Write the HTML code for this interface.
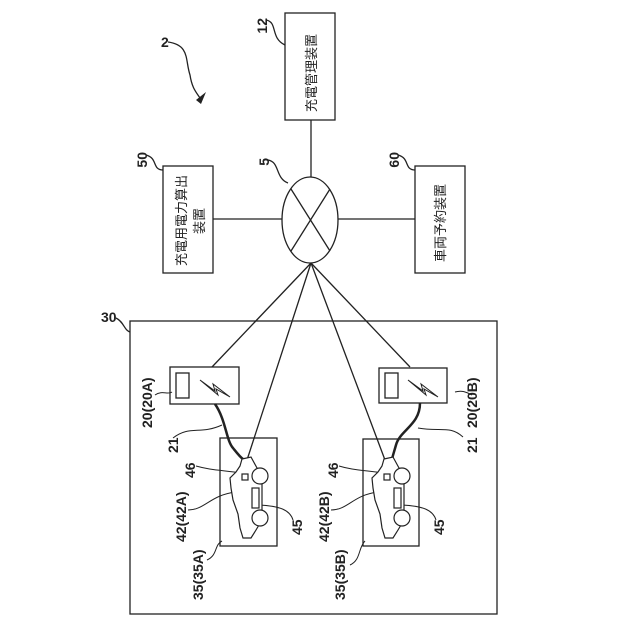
<!DOCTYPE html>
<html><head><meta charset="utf-8"><style>
html,body{margin:0;padding:0;background:#fff;}
svg{display:block;}
text{font-family:"Liberation Sans","Noto Sans CJK JP",sans-serif;fill:#222;}
</style></head><body>
<svg width="640" height="640" viewBox="0 0 640 640" xmlns="http://www.w3.org/2000/svg">
<defs><g id="car">
<path d="M242,459 L251,457 L257,468 L262,476 L262,520 L256,530 L251,538 L243,538 L240,528 L238,514 L233,500 L231,488 L230,478 L236,472 L240,466 Z" fill="#fff" stroke="#222" stroke-width="1.2"/>
<circle cx="260" cy="476" r="8" fill="#fff" stroke="#222" stroke-width="1.2"/>
<circle cx="260" cy="518" r="8" fill="#fff" stroke="#222" stroke-width="1.2"/>
<rect x="252" y="488" width="7" height="20" fill="#fff" stroke="#222" stroke-width="1.2"/>
<rect x="242" y="474" width="6" height="6" fill="#fff" stroke="#222" stroke-width="1.2"/>
</g></defs>
<g stroke="#222" stroke-width="1.3" fill="none">
<rect x="285" y="13" width="50" height="107" fill="#fff"/>
<rect x="163" y="166" width="50" height="107" fill="#fff"/>
<rect x="415" y="166" width="50" height="107" fill="#fff"/>
<line x1="311" y1="120" x2="311" y2="177"/>
<line x1="213" y1="219" x2="282" y2="219"/>
<line x1="338" y1="219" x2="415" y2="219"/>
<ellipse cx="310" cy="220" rx="28" ry="43" fill="#fff"/>
<line x1="291" y1="189" x2="330" y2="251"/>
<line x1="330" y1="189" x2="291" y2="251"/>
<rect x="130" y="321" width="367" height="293"/>
<line x1="311" y1="263" x2="212" y2="367"/>
<line x1="311" y1="263" x2="247" y2="460"/>
<line x1="311" y1="263" x2="385" y2="460"/>
<line x1="311" y1="263" x2="410" y2="367"/>
<rect x="170" y="367" width="69" height="37" fill="#fff"/>
<rect x="176" y="373" width="13" height="25"/>
<path d="M200,380 L215,391 L213,384 L230,397 L216,389 L218,395 Z" stroke-width="1"/>
<rect x="379" y="368" width="68" height="35" fill="#fff"/>
<rect x="385" y="373" width="13" height="25"/>
<path d="M408,380 L423,391 L421,384 L438,397 L424,389 L426,395 Z" stroke-width="1"/>
<rect x="220" y="438" width="57" height="108"/>
<rect x="363" y="439" width="56" height="107"/>
<path d="M215,404 C226,420 226,440 233,448 C237,453 240,457 243,459" stroke-width="2.5"/>
<path d="M420,403 C420,425 400,430 396,445 C394,452 393,455 392,459" stroke-width="2.5"/>
<path d="M168,42 C190,45 185,60 190,75 C192,88 196,92 200,98"/>
<path d="M266,20 C278,22 270,38 285,45"/>
<path d="M146,155 C158,158 152,170 163,170"/>
<path d="M268,160 C280,162 275,178 288,183"/>
<path d="M398,155 C410,158 404,170 415,170"/>
<path d="M116,318 C124,322 124,330 130,332"/>
<path d="M155,395 C162,390 168,395 172,392" stroke-width="1"/>
<path d="M472,395 C466,392 462,390 455,392" stroke-width="1"/>
<path d="M173,438 C190,425 200,435 222,425" stroke-width="1"/>
<path d="M463,437 C450,425 440,432 418,428" stroke-width="1"/>
<path d="M196,466 C210,470 220,470 242,473" stroke-width="1"/>
<path d="M339,466 C352,470 362,470 384,473" stroke-width="1"/>
<path d="M188,510 C205,510 210,495 236,492" stroke-width="1"/>
<path d="M331,510 C348,510 353,495 378,492" stroke-width="1"/>
<path d="M293,520 C290,510 280,506 259,505" stroke-width="1"/>
<path d="M436,520 C433,510 423,506 402,505" stroke-width="1"/>
<path d="M207,560 C218,555 214,545 222,541" stroke-width="1"/>
<path d="M350,565 C361,560 358,548 365,541" stroke-width="1"/>
</g>
<path d="M196,100 L206,92 L201,104 Z" fill="#222"/>
<use href="#car"/>
<use href="#car" transform="translate(142,0)"/>
<g font-size="14" font-weight="bold">
<text x="161" y="47">2</text>
<text transform="translate(267,18) rotate(-90)" text-anchor="end">12</text>
<text transform="translate(147,152) rotate(-90)" text-anchor="end">50</text>
<text transform="translate(269,158) rotate(-90)" text-anchor="end">5</text>
<text transform="translate(399,152) rotate(-90)" text-anchor="end">60</text>
<text x="101" y="322">30</text>
<text transform="translate(152,428) rotate(-90)">20(20A)</text>
<text transform="translate(477,428) rotate(-90)">20(20B)</text>
<text transform="translate(178,453) rotate(-90)">21</text>
<text transform="translate(477,453) rotate(-90)">21</text>
<text transform="translate(195,478) rotate(-90)">46</text>
<text transform="translate(338,478) rotate(-90)">46</text>
<text transform="translate(186,542) rotate(-90)">42(42A)</text>
<text transform="translate(329,542) rotate(-90)">42(42B)</text>
<text transform="translate(302,535) rotate(-90)">45</text>
<text transform="translate(444,535) rotate(-90)">45</text>
<text transform="translate(203,600) rotate(-90)">35(35A)</text>
<text transform="translate(345,600) rotate(-90)">35(35B)</text>
</g>
<g font-size="13">
<text transform="translate(316,112) rotate(-90)">充電管理装置</text>
<text transform="translate(186,266) rotate(-90)">充電用電力算出</text>
<text transform="translate(204,234) rotate(-90)">装置</text>
<text transform="translate(445,262) rotate(-90)">車両予約装置</text>
</g>
</svg>
</body></html>
